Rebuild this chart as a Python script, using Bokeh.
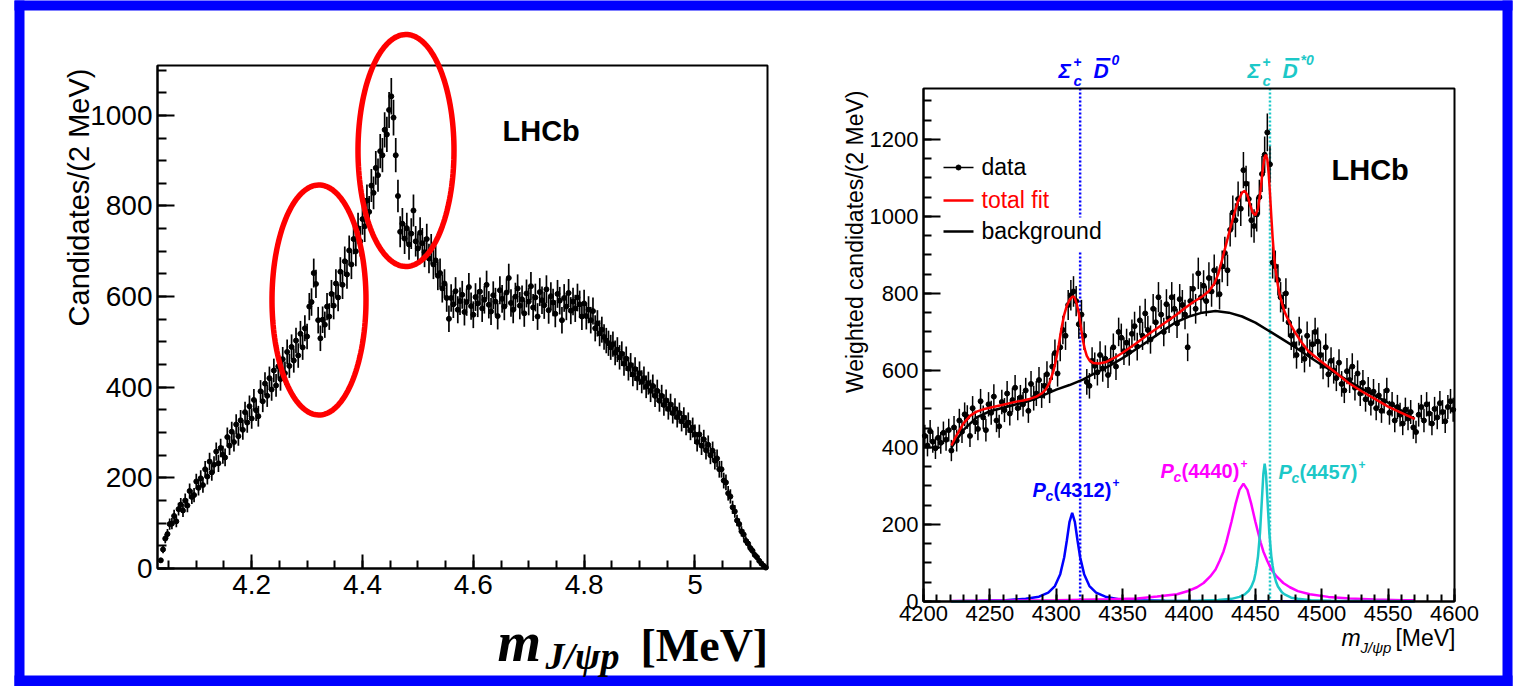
import numpy as np
from bokeh.plotting import figure
from bokeh.models import (Range1d, FixedTicker, NumeralTickFormatter, Label,
                          PolyAnnotation, ColumnDataSource, LinearAxis)
from bokeh.embed import file_html
from bokeh.resources import INLINE

# ------------------------------------------------------------------
# DATA
# ------------------------------------------------------------------
# Left panel: full m(J/psi p) spectrum, GeV, every second 2-MeV bin
left_first_bin = 4.036
left_bin_step = 0.004
left_counts = [
    18, 42, 66, 76, 98, 99, 116, 104, 131, 141,
    128, 150, 139, 171, 158, 162, 192, 178, 199, 184,
    219, 203, 236, 212, 229, 258, 232, 266, 251, 245,
    290, 271, 302, 279, 318, 292, 327, 306, 345, 322,
    358, 331, 372, 349, 336, 391, 369, 408, 381, 420,
    395, 437, 404, 446, 418, 462, 431, 478, 447, 489,
    459, 503, 470, 518, 488, 530, 512, 578, 588, 652,
    628, 548, 508, 549, 538, 578, 556, 606, 580, 629,
    598, 655, 626, 678, 649, 702, 671, 727, 700, 751,
    722, 771, 755, 812, 787, 845, 829, 884, 868, 921,
    912, 968, 958, 1012, 1042, 995, 912, 822, 743, 761,
    728, 751, 715, 739, 790, 722, 706, 741, 718, 698,
    727, 684, 705, 671, 680, 646, 652, 618, 629, 597,
    551, 597, 583, 612, 571, 590, 604, 566, 588, 621,
    579, 560, 599, 585, 611, 574, 593, 626, 582, 567,
    603, 589, 557, 614, 595, 578, 609, 641, 586, 571,
    600, 618, 580, 594, 563, 607, 589, 623, 576, 598,
    556, 610, 592, 581, 616, 570, 601, 587, 562, 606,
    591, 548, 597, 578, 608, 569, 589, 574, 598, 583,
    556, 585, 557, 571, 548, 568, 530, 541, 519, 527,
    511, 503, 497, 488, 495, 476, 483, 466, 474, 452,
    463, 441, 449, 428, 440, 419, 431, 412, 420, 401,
    409, 392, 403, 381, 392, 370, 381, 361, 371, 352,
    362, 343, 352, 334, 343, 325, 333, 316, 322, 305,
    311, 296, 279, 296, 271, 285, 261, 273, 250, 260,
    238, 243, 219, 219, 194, 190, 166, 159, 135, 126,
    106, 98, 82, 75, 61, 55, 45, 39, 30, 25,
    17, 11, 6, 2,
]
left_xticks = [4.2, 4.4, 4.6, 4.8, 5.0]
left_yticks = [0, 200, 400, 600, 800, 1000]

# Right panel: weighted candidates, MeV, 2-MeV bins
right_first_bin = 4201
right_bin_step = 2
right_counts = [
    430, 405, 442, 415, 398, 425, 412, 438, 420, 445,
    392, 452, 418, 470, 441, 486, 479, 430, 502, 465,
    448, 520, 478, 445, 512, 490, 532, 470, 455, 518,
    497, 540, 488, 523, 555, 502, 530, 512, 548, 495,
    565, 528, 540, 575, 535, 560, 590, 548, 610, 645,
    592, 660, 705, 690, 770, 795, 805, 780, 720, 745,
    690, 570, 560, 625, 612, 595, 640, 605, 630, 588,
    625, 660, 610, 700, 685, 650, 672, 648, 695, 715,
    662, 730, 690, 748, 705, 680, 760, 725, 790, 745,
    700, 772, 735, 790, 760, 722, 785, 770, 745, 660,
    780, 812, 760, 852, 790, 820, 780, 840, 805, 860,
    830, 798, 870, 905, 860, 965, 1010, 990, 1045, 1020,
    1120, 1085, 1045, 990, 975, 1005, 1050, 1110, 1160, 1218,
    1135, 880, 870, 835, 790, 765, 800, 725, 690, 668,
    640, 702, 655, 630, 690, 645, 668, 700, 675, 640,
    612, 660, 590, 625, 600, 580, 620, 565, 548, 598,
    575, 610, 555, 592, 540, 568, 525, 550, 515, 545,
    502, 535, 495, 520, 548, 490, 512, 470, 505, 485,
    462, 498, 475, 492, 452, 440, 485, 505, 470, 512,
    488, 462, 500, 478, 515, 492, 468, 505, 520, 498,
]
total_fit_x = [4221, 4225, 4230, 4235, 4240, 4245, 4250, 4255, 4260, 4265, 4270, 4275,
               4280, 4285, 4289, 4292, 4295, 4298, 4300, 4302, 4304, 4306, 4308, 4310,
               4312, 4313, 4314, 4315.5, 4317, 4318.5, 4320, 4321.5, 4323, 4325, 4328,
               4332, 4337, 4344, 4350, 4360, 4370, 4380, 4390, 4397, 4403, 4410, 4415,
               4419, 4422, 4425, 4428, 4431, 4434, 4437, 4440, 4442, 4444, 4446, 4448,
               4450, 4452, 4454, 4455.5, 4457, 4458, 4459, 4460, 4461, 4462, 4463, 4464,
               4465, 4467, 4469, 4472, 4476, 4480, 4485, 4490, 4500, 4510, 4520, 4530,
               4540, 4550, 4560, 4570]
total_fit_y = [405, 432, 462, 482, 493, 499, 503, 507, 511, 515, 519, 522,
               526, 532, 540, 550, 568, 600, 630, 668, 710, 745, 768, 783,
               791, 792, 788, 772, 748, 715, 680, 655, 638, 626, 619,
               618, 621, 633, 646, 670, 695, 719, 743, 762, 777, 792, 806,
               825, 850, 888, 928, 968, 1006, 1040, 1062, 1066, 1055, 1030, 1010,
               1003, 1020, 1070, 1120, 1155, 1160, 1148, 1112, 1060, 1000, 945, 900,
               866, 820, 787, 752, 722, 698, 672, 650, 622, 596, 568, 546,
               526, 506, 490, 474]
background_x = [4221, 4230, 4240, 4250, 4260, 4270, 4280, 4290, 4300, 4310, 4320, 4330,
                4340, 4350, 4360, 4370, 4380, 4390, 4400, 4410, 4420, 4430, 4440, 4450,
                4460, 4470, 4480, 4490, 4500, 4510, 4520, 4530, 4540, 4550, 4560, 4570]
background_y = [400, 445, 478, 494, 503, 512, 521, 535, 550, 562, 576, 594,
                612, 632, 655, 678, 702, 725, 740, 750, 754, 750, 740, 724,
                703, 682, 660, 637, 614, 594, 573, 553, 535, 516, 496, 474]
pc4312_x = [4221, 4242, 4262, 4277, 4287, 4294, 4299, 4303, 4306, 4308, 4310, 4312, 4314,
            4316, 4318, 4321, 4325, 4330, 4337, 4347, 4362, 4382, 4420, 4470, 4570]
pc4312_y = [0.8, 1.7, 3.5, 7, 12.5, 23, 40, 71, 115, 159, 207, 230, 207,
            159, 115, 71, 40, 23, 12.5, 6, 3, 1.7, 0.8, 0.5, 0.3]
pc4440_x = [4221, 4300, 4340, 4361, 4376, 4391, 4400, 4406, 4411, 4416, 4420, 4423, 4426,
            4428, 4432, 4435, 4438, 4441, 4444, 4447, 4450, 4454, 4456, 4459, 4462, 4466,
            4471, 4476, 4482, 4491, 4505, 4521, 4540, 4561, 4570]
pc4440_y = [1.5, 3.5, 6, 8, 13, 19, 28, 37, 48, 65, 83, 105, 130,
            153, 207, 252, 290, 306, 290, 252, 207, 153, 130, 105, 83, 65,
            48, 37, 27, 19, 12, 8, 5, 3.5, 3]
pc4457_x = [4221, 4357, 4407, 4422, 4432, 4438, 4442, 4445, 4447, 4449, 4450, 4451, 4452,
            4453.5, 4455, 4456, 4457, 4458, 4459, 4460.5, 4462, 4463, 4464, 4465.5, 4467,
            4470, 4472, 4477, 4482, 4492, 4507, 4570]
pc4457_y = [0.3, 0.5, 1.7, 3.8, 6.9, 12, 18.5, 28, 39, 56, 72, 93, 118,
            179, 270, 331, 358, 331, 270, 179, 118, 93, 72, 52, 39,
            24, 18.5, 10, 6.9, 3.5, 1.7, 0.5]
threshold_mass = [4318.0, 4461.0]          # Sigma_c+ Dbar0, Sigma_c+ Dbar*0
right_xticks = [4200, 4250, 4300, 4350, 4400, 4450, 4500, 4550, 4600]
right_yticks = [0, 200, 400, 600, 800, 1000, 1200]

# ------------------------------------------------------------------
# LAYOUT / STYLE
# ------------------------------------------------------------------
SANS = "Liberation Sans"
SERIF = "Liberation Serif"
BLUE, CYAN, MAGENTA, RED = "#0000ff", "#1cc8c8", "#ff00ff", "#ff0000"

PAGE_W, PAGE_H = 1519, 686
L1, R1, T1, B1 = 157, 767, 65, 568       # frame of left panel (page px)
L2, R2, T2, B2 = 923, 1454, 88, 601      # frame of right panel (page px)
X1 = (4.03, 5.131)
Y1 = (0.0, 1110.0)
X2 = (4200.0, 4600.0)
Y2 = (0.0, 1332.0)


def lin(p0, p1, v0, v1):
    return lambda px: v0 + (px - p0) * (v1 - v0) / (p1 - p0)


fx1 = lin(L1, R1, *X1)
fy1 = lin(B1, T1, *Y1)
fx2 = lin(L2, R2, *X2)
fy2 = lin(B2, T2, *Y2)

# one canvas, frame = whole page; default range = page pixels (y downwards)
p = figure(width=PAGE_W, height=PAGE_H, output_backend="svg", toolbar_location=None,
           x_range=Range1d(0, PAGE_W), y_range=Range1d(PAGE_H, 0),
           x_axis_type=None, y_axis_type=None, title=None,
           min_border_left=0, min_border_right=0, min_border_top=0, min_border_bottom=0)
p.outline_line_color = None
p.background_fill_color = "white"
p.border_fill_color = "white"
p.extra_x_ranges = {"L": Range1d(fx1(0), fx1(PAGE_W)), "R": Range1d(fx2(0), fx2(PAGE_W))}
p.extra_y_ranges = {"L": Range1d(fy1(PAGE_H), fy1(0)), "R": Range1d(fy2(PAGE_H), fy2(0))}
LL = dict(x_range_name="L", y_range_name="L")
RR = dict(x_range_name="R", y_range_name="R")


def style_axis(ax, fs, maj_in, min_in, standoff):
    ax.axis_line_width = 2
    ax.axis_line_color = "black"
    ax.major_tick_line_width = 2
    ax.minor_tick_line_width = 2
    ax.major_tick_in = maj_in
    ax.major_tick_out = 0
    ax.minor_tick_in = min_in
    ax.minor_tick_out = 0
    ax.major_label_text_font = SANS
    ax.major_label_text_font_size = fs
    ax.major_label_text_color = "black"
    ax.major_label_standoff = standoff


def lab(x, y, text, size, color="black", font=SANS, style="normal",
        align="left", rotated=False):
    """(x, y): baseline point in page pixels; text is anchored at its middle."""
    off = 0.31 * size
    if rotated:
        ax_, ay_, ang = x - off, y, np.pi / 2
    else:
        ax_, ay_, ang = x, y - off, 0.0
    p.add_layout(Label(x=ax_, y=ay_, text=text, text_font=font,
                       text_font_size=f"{size}px", text_font_style=style,
                       text_color=color, text_align=align,
                       text_baseline="middle", angle=ang))


def pbox(x0, x1, y0, y1, color):
    p.quad(left=[x0], right=[x1], top=[y0], bottom=[y1], fill_color=color,
           line_color=None)


# ------------------------------------------------------------------
# LEFT PANEL
# ------------------------------------------------------------------
lx = left_first_bin + left_bin_step * np.arange(len(left_counts))
ly = np.array(left_counts, dtype=float)
le = 1.25 * np.sqrt(ly)
src1 = ColumnDataSource(dict(x=lx, y=ly, lo=ly - le, hi=ly + le))
p.segment(x0="x", y0="lo", x1="x", y1="hi", source=src1, line_color="black",
          line_width=1.7, **LL)
p.scatter(x="x", y="y", source=src1, marker="circle", size=5, fill_color="black",
          line_color="black", **LL)
p.quad(left=[X1[0]], right=[X1[1]], bottom=[Y1[0]], top=[Y1[1]], fill_alpha=0,
       line_color="black", line_width=2, **LL)

xa1 = LinearAxis(x_range_name="L", y_range_name="L", fixed_location=Y1[0], bounds=X1,
                 ticker=FixedTicker(ticks=left_xticks,
                                    minor_ticks=list(np.round(np.arange(4.05, 5.13, 0.05), 3))),
                 formatter=NumeralTickFormatter(format="0.[0]"))
ya1 = LinearAxis(x_range_name="L", y_range_name="L", fixed_location=X1[0], bounds=Y1,
                 ticker=FixedTicker(ticks=left_yticks, minor_ticks=list(range(0, 1101, 50))))
style_axis(xa1, "28px", 14, 8, 6)
style_axis(ya1, "28px", 17, 9, 5)
p.add_layout(xa1, "below")
p.add_layout(ya1, "left")

lab(87, 68, "Candidates/(2 MeV)", 29, align="right", rotated=True)
lab(502, 139, "LHCb", 29, style="bold")
lab(497, 659, "m", 56, font=SERIF, style="bold italic")
lab(545, 667, "J/ψp", 38, font=SERIF, style="bold italic")
lab(640, 659, "[MeV]", 46, font=SERIF, style="bold")

# red ellipses (annotation)
t = np.linspace(0, 2 * np.pi, 160)
for cx, cy, rx, ry in [(318.5, 299.5, 47, 115), (405.5, 150, 48, 116)]:
    p.add_layout(PolyAnnotation(xs=list(cx + rx * np.cos(t)), ys=list(cy + ry * np.sin(t)),
                                fill_alpha=0.0, line_color=RED, line_alpha=1.0,
                                line_width=5.5))

# ------------------------------------------------------------------
# RIGHT PANEL
# ------------------------------------------------------------------
# threshold lines
p.segment(x0=[threshold_mass[0]] * 3, x1=[threshold_mass[0]] * 3,
          y0=[fy2(T2), fy2(252), fy2(498)], y1=[fy2(217), fy2(478), fy2(B2)],
          line_color=BLUE, line_width=2.5, line_dash="2 2", **RR)
p.segment(x0=[threshold_mass[1]], x1=[threshold_mass[1]], y0=[fy2(T2)], y1=[fy2(B2)],
          line_color=CYAN, line_width=2.5, line_dash="2 2", **RR)

rxv = right_first_bin + right_bin_step * np.arange(len(right_counts))
ryv = np.array(right_counts, dtype=float)
rev = 1.4 * np.sqrt(ryv)
src2 = ColumnDataSource(dict(x=rxv, y=ryv, lo=ryv - rev, hi=ryv + rev))
p.segment(x0="x", y0="lo", x1="x", y1="hi", source=src2, line_color="black",
          line_width=1.5, **RR)
p.scatter(x="x", y="y", source=src2, marker="circle", size=5, fill_color="black",
          line_color="black", **RR)

p.line(pc4312_x, pc4312_y, line_color=BLUE, line_width=2.5, **RR)
p.line(pc4440_x, pc4440_y, line_color=MAGENTA, line_width=2.5, **RR)
p.line(pc4457_x, pc4457_y, line_color=CYAN, line_width=2.5, **RR)
p.line(background_x, background_y, line_color="black", line_width=2.5, **RR)
p.line(total_fit_x, total_fit_y, line_color=RED, line_width=2.5, **RR)
p.quad(left=[X2[0]], right=[X2[1]], bottom=[Y2[0]], top=[Y2[1]], fill_alpha=0,
       line_color="black", line_width=2, **RR)

xa2 = LinearAxis(x_range_name="R", y_range_name="R", fixed_location=Y2[0], bounds=X2,
                 ticker=FixedTicker(ticks=right_xticks, minor_ticks=list(range(4200, 4601, 10))))
ya2 = LinearAxis(x_range_name="R", y_range_name="R", fixed_location=X2[0], bounds=Y2,
                 ticker=FixedTicker(ticks=right_yticks, minor_ticks=list(range(0, 1301, 50))))
style_axis(xa2, "22px", 13, 7, 4)
style_axis(ya2, "22px", 17, 8, 5)
p.add_layout(xa2, "below")
p.add_layout(ya2, "left")

# legend (hand made)
for py, col, txt, w in [(167, "black", "data", 1.5), (200, RED, "total fit", 2.5),
                        (231, "black", "background", 2.5)]:
    p.segment(x0=[943], x1=[973], y0=[py], y1=[py], line_color=col, line_width=w)
    lab(981, py + 7, txt, 23, color=col)
p.scatter(x=[958], y=[167], marker="circle", size=5, fill_color="black", line_color="black")

lab(1331, 178, "LHCb", 29, style="bold")
lab(862, 90, "Weighted candidates/(2 MeV)", 23, align="right", rotated=True)

# x title
lab(1341, 645, "m", 23, style="italic")
lab(1360, 652, "J/ψp", 15, style="italic")
lab(1455, 645, "[MeV]", 23, align="right")

# resonance labels
for x0, base, col, num in [(1032, 496, BLUE, "(4312)"), (1160, 477, MAGENTA, "(4440)"),
                           (1278, 478, CYAN, "(4457)")]:
    lab(x0, base, "P", 20, color=col, style="bold italic")
    lab(x0 + 13, base + 4, "c", 14, color=col, style="bold italic")
    lab(x0 + 21, base, num, 20, color=col, style="bold")
    lab(x0 + 80, base - 10, "+", 12, color=col, style="bold")

# threshold labels above frame
for x0, col, sup in [(1058, BLUE, "0"), (1247, CYAN, "*0")]:
    lab(x0, 77, "Σ", 21, color=col, style="bold italic")
    lab(x0 + 15, 66, "+", 14, color=col, style="bold")
    lab(x0 + 15, 85, "c", 15, color=col, style="bold italic")
    lab(x0 + 35, 77, "D", 21, color=col, style="bold italic")
    pbox(x0 + 38, x0 + 52, 57.5, 60, col)
    lab(x0 + 53, 64, sup, 14, color=col, style="bold italic")

# blue picture border
pbox(14, 1512, -5, 10, BLUE)
pbox(14, 24, -5, PAGE_H + 5, BLUE)
pbox(1502, 1512, -5, PAGE_H + 5, BLUE)
pbox(14, 1512, 675, PAGE_H + 5, BLUE)

open("out.html", "w").write(file_html(p, INLINE))
